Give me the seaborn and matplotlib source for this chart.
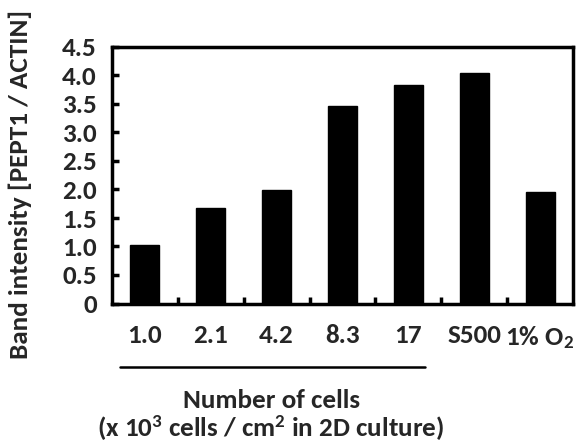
import matplotlib
matplotlib.use("Agg")
import matplotlib.pyplot as plt
import seaborn as sns
import pandas as pd
import numpy as np

categories = ["1.0", "2.1", "4.2", "8.3", "17", "S500", "1% O$_{2}$"]
values = [1.02, 1.67, 1.99, 3.47, 3.83, 4.04, 1.95]
yticks = [0, 0.5, 1.0, 1.5, 2.0, 2.5, 3.0, 3.5, 4.0, 4.5]
ytick_labels = ["0", "0.5", "1.0", "1.5", "2.0", "2.5", "3.0", "3.5", "4.0", "4.5"]

sns.set_theme(style="white")
FAM = 'Carlito'
plt.rcParams['font.family'] = [FAM, 'DejaVu Sans']
plt.rcParams['font.weight'] = 'bold'
plt.rcParams['mathtext.fontset'] = 'custom'
plt.rcParams['mathtext.rm'] = FAM + ':bold'
plt.rcParams['mathtext.bf'] = FAM + ':bold'
plt.rcParams['mathtext.default'] = 'bf'

FS = 19.5
df = pd.DataFrame({"cat": categories, "val": values})

fig = plt.figure(figsize=(5.87, 4.48), dpi=100)
ax = fig.add_axes([112/587, 1-303.5/448, (573-112)/587, (303.5-47)/448])
sns.barplot(data=df, x="cat", y="val", color="black", width=0.44, ax=ax,
            saturation=1, edgecolor="black")

ax.set_xlim(-0.5, 6.5)
ax.set_ylim(0, 4.5)
ax.set_yticks(yticks)
ax.set_yticklabels(ytick_labels, fontsize=FS, fontweight='bold')
ax.set_xticks(range(len(categories)))
ax.set_xticklabels(categories, fontsize=FS, fontweight='bold')
ax.set_xticks(np.arange(0.5, 6, 1), minor=True)
ax.tick_params(axis='x', which='major', length=0, pad=15)
ax.tick_params(axis='x', which='minor', direction='in', length=5, width=2.5, color='black', bottom=True)
ax.tick_params(axis='y', which='major', direction='in', length=5, width=2.5, color='black', left=True, pad=11)
for s in ax.spines.values():
    s.set_visible(True)
    s.set_color('black')
    s.set_linewidth(2.5)
ax.set_xlabel("")
ax.set_ylabel("")
fig.text(20/587, 1-184/448, "Band intensity [PEPT1 / ACTIN]", rotation=90, ha='center', va='center',
         fontsize=FS, fontweight='bold')

fig.add_artist(plt.Line2D([120/587, 425/587], [1-367/448, 1-367/448], color='black', lw=1.8))
fig.text(272/587, 1-408/448, "Number of cells", ha='center', va='baseline', fontsize=FS, fontweight='bold')
fig.text(271/587, 1-437/448, "(x 10$^{3}$ cells / cm$^{2}$ in 2D culture)", ha='center', va='baseline',
         fontsize=FS, fontweight='bold')

fig.savefig("out.png", dpi=100)
